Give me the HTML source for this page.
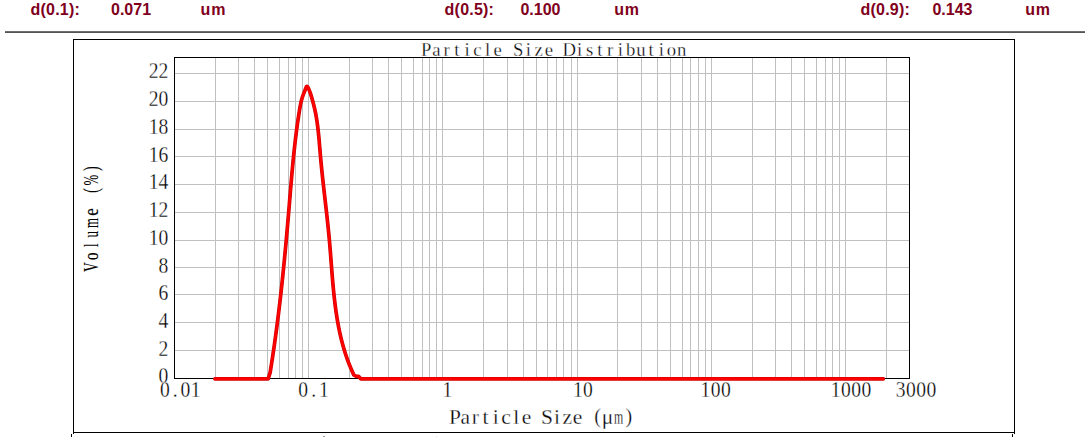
<!DOCTYPE html>
<html><head><meta charset="utf-8"><title>Particle Size Distribution</title>
<style>html,body{margin:0;padding:0;background:#fff;width:1087px;height:438px;overflow:hidden}svg{display:block}</style>
</head><body>
<svg width="1087" height="438" viewBox="0 0 1087 438"><path d="M215.5 58V378 M238.5 58V378 M254.5 58V378 M267.5 58V378 M279.5 58V378 M288.5 58V378 M295.5 58V378 M302.5 58V378 M308.5 58V378 M349.5 58V378 M372.5 58V378 M388.5 58V378 M401.5 58V378 M413.5 58V378 M422.5 58V378 M429.5 58V378 M436.5 58V378 M442.5 58V378 M483.5 58V378 M507.5 58V378 M523.5 58V378 M536.5 58V378 M547.5 58V378 M556.5 58V378 M563.5 58V378 M571.5 58V378 M577.5 58V378 M617.5 58V378 M641.5 58V378 M657.5 58V378 M670.5 58V378 M682.5 58V378 M690.5 58V378 M698.5 58V378 M705.5 58V378 M711.5 58V378 M752.5 58V378 M775.5 58V378 M791.5 58V378 M804.5 58V378 M816.5 58V378 M825.5 58V378 M832.5 58V378 M839.5 58V378 M845.5 58V378 M886.5 58V378 M175 350.5H909 M175 322.5H909 M175 294.5H909 M175 267.5H909 M175 240.5H909 M175 212.5H909 M175 184.5H909 M175 156.5H909 M175 129.5H909 M175 101.5H909 M175 73.5H909" stroke="#c0c0c0" stroke-width="1" fill="none" shape-rendering="crispEdges"/>
<path d="M174.5 57.5H909.5V378.5H174.5Z" stroke="#000" stroke-width="1" fill="none" shape-rendering="crispEdges"/>
<path d="M214.90 378.80 L268.20 378.80 L270.13 372.61 L270.37 371.16 L270.60 369.72 L270.83 368.27 L271.06 366.82 L271.29 365.38 L271.51 363.93 L271.74 362.49 L271.96 361.04 L272.19 359.59 L272.41 358.15 L272.62 356.70 L272.84 355.26 L273.06 353.81 L273.27 352.36 L273.49 350.91 L273.70 349.47 L273.91 348.02 L274.12 346.57 L274.32 345.13 L274.53 343.68 L274.73 342.23 L274.94 340.78 L275.14 339.34 L275.34 337.89 L275.54 336.44 L275.74 334.99 L275.93 333.54 L276.13 332.10 L276.32 330.65 L276.51 329.20 L276.70 327.75 L276.89 326.30 L277.08 324.85 L277.27 323.40 L277.46 321.95 L277.64 320.51 L277.82 319.06 L278.01 317.61 L278.19 316.16 L278.37 314.71 L278.55 313.26 L278.72 311.81 L278.90 310.36 L279.08 308.91 L279.25 307.46 L279.42 306.01 L279.60 304.56 L279.77 303.10 L279.94 301.65 L280.10 300.20 L280.27 298.75 L280.44 297.30 L280.60 295.85 L280.77 294.40 L280.93 292.95 L281.09 291.49 L281.25 290.04 L281.41 288.59 L281.57 287.14 L281.73 285.68 L281.89 284.23 L282.05 282.78 L282.20 281.33 L282.35 279.87 L282.51 278.42 L282.66 276.97 L282.81 275.51 L282.96 274.06 L283.11 272.61 L283.26 271.15 L283.41 269.70 L283.56 268.24 L283.70 266.79 L283.85 265.34 L283.99 263.88 L284.14 262.43 L284.28 260.97 L284.42 259.52 L284.56 258.06 L284.71 256.61 L284.85 255.15 L284.98 253.69 L285.12 252.24 L285.26 250.78 L285.40 249.33 L285.53 247.87 L285.67 246.41 L285.81 244.96 L285.94 243.50 L286.07 242.04 L286.21 240.58 L286.34 239.13 L286.47 237.67 L286.60 236.21 L286.73 234.75 L286.86 233.30 L286.99 231.84 L287.12 230.38 L287.25 228.92 L287.38 227.46 L287.50 226.00 L287.63 224.54 L287.75 223.08 L287.88 221.62 L288.00 220.16 L288.13 218.70 L288.25 217.24 L288.38 215.78 L288.50 214.32 L288.62 212.86 L288.74 211.40 L288.87 209.94 L288.99 208.48 L289.11 207.02 L289.23 205.56 L289.35 204.10 L289.47 202.63 L289.59 201.17 L289.71 199.71 L289.83 198.25 L289.95 196.79 L290.07 195.33 L290.20 193.86 L290.32 192.40 L290.44 190.94 L290.56 189.48 L290.68 188.02 L290.81 186.56 L290.93 185.10 L291.05 183.64 L291.18 182.18 L291.31 180.72 L291.43 179.25 L291.56 177.79 L291.69 176.34 L291.82 174.88 L291.95 173.42 L292.08 171.96 L292.21 170.50 L292.35 169.04 L292.48 167.58 L292.62 166.13 L292.75 164.67 L292.89 163.21 L293.03 161.76 L293.18 160.30 L293.32 158.85 L293.47 157.39 L293.61 155.94 L293.76 154.48 L293.91 153.03 L294.07 151.58 L294.22 150.13 L294.38 148.68 L294.54 147.23 L294.70 145.78 L294.86 144.33 L295.02 142.88 L295.19 141.43 L295.36 139.98 L295.53 138.54 L295.71 137.09 L295.89 135.65 L296.07 134.20 L296.25 132.76 L296.43 131.32 L296.62 129.88 L296.81 128.44 L297.01 127.00 L297.20 125.56 L297.40 124.12 L297.60 122.69 L297.81 121.25 L298.02 119.82 L298.23 118.38 L298.45 116.95 L298.66 115.52 L298.89 114.09 L299.11 112.66 L299.34 111.23 L299.57 109.80 L299.81 108.38 L300.06 106.95 L300.32 105.52 L300.61 104.09 L300.91 102.65 L301.25 101.21 L301.63 99.75 L302.04 98.29 L302.50 96.82 L303.01 95.33 L303.57 93.83 L304.19 92.31 L304.82 90.79 L305.41 89.25 L305.95 87.77 L306.46 86.65 L307.02 86.29 L307.66 86.87 L308.33 88.09 L308.99 89.62 L309.60 91.16 L310.16 92.69 L310.67 94.20 L311.15 95.69 L311.60 97.17 L312.02 98.62 L312.43 100.07 L312.82 101.50 L313.20 102.91 L313.57 104.32 L313.92 105.72 L314.26 107.12 L314.59 108.51 L314.90 109.91 L315.20 111.32 L315.49 112.72 L315.77 114.14 L316.03 115.55 L316.28 116.98 L316.52 118.40 L316.75 119.83 L316.97 121.27 L317.18 122.71 L317.38 124.15 L317.57 125.60 L317.75 127.04 L317.93 128.50 L318.10 129.95 L318.26 131.41 L318.41 132.86 L318.56 134.33 L318.71 135.79 L318.85 137.25 L318.98 138.72 L319.12 140.18 L319.25 141.65 L319.37 143.12 L319.50 144.59 L319.62 146.06 L319.74 147.53 L319.87 149.00 L319.99 150.47 L320.11 151.94 L320.23 153.41 L320.36 154.88 L320.49 156.34 L320.61 157.81 L320.75 159.27 L320.88 160.74 L321.02 162.20 L321.16 163.66 L321.30 165.12 L321.44 166.58 L321.59 168.03 L321.73 169.49 L321.88 170.95 L322.03 172.40 L322.18 173.86 L322.34 175.31 L322.49 176.76 L322.65 178.21 L322.81 179.66 L322.96 181.12 L323.12 182.57 L323.29 184.01 L323.45 185.46 L323.61 186.91 L323.77 188.36 L323.94 189.81 L324.10 191.25 L324.27 192.70 L324.43 194.15 L324.60 195.59 L324.76 197.04 L324.93 198.49 L325.10 199.93 L325.26 201.38 L325.43 202.82 L325.59 204.27 L325.76 205.71 L325.92 207.16 L326.09 208.61 L326.25 210.05 L326.42 211.50 L326.58 212.94 L326.74 214.39 L326.90 215.84 L327.06 217.29 L327.22 218.73 L327.38 220.18 L327.53 221.63 L327.69 223.08 L327.84 224.53 L327.99 225.98 L328.14 227.43 L328.29 228.88 L328.44 230.33 L328.58 231.79 L328.73 233.24 L328.87 234.70 L329.01 236.15 L329.14 237.61 L329.28 239.07 L329.41 240.52 L329.54 241.98 L329.66 243.44 L329.79 244.91 L329.91 246.37 L330.03 247.83 L330.15 249.29 L330.27 250.76 L330.39 252.22 L330.50 253.69 L330.62 255.16 L330.73 256.62 L330.84 258.09 L330.96 259.56 L331.07 261.02 L331.18 262.49 L331.30 263.96 L331.41 265.43 L331.52 266.90 L331.64 268.37 L331.75 269.84 L331.87 271.30 L331.98 272.77 L332.10 274.24 L332.22 275.71 L332.34 277.18 L332.46 278.64 L332.59 280.11 L332.71 281.58 L332.84 283.04 L332.97 284.51 L333.11 285.98 L333.24 287.44 L333.38 288.90 L333.52 290.37 L333.67 291.83 L333.82 293.29 L333.97 294.75 L334.12 296.21 L334.28 297.67 L334.45 299.13 L334.62 300.59 L334.79 302.04 L334.97 303.50 L335.15 304.95 L335.33 306.40 L335.52 307.86 L335.72 309.30 L335.92 310.75 L336.13 312.20 L336.34 313.64 L336.56 315.09 L336.79 316.53 L337.02 317.97 L337.26 319.41 L337.50 320.85 L337.75 322.28 L338.01 323.71 L338.27 325.14 L338.54 326.57 L338.82 328.00 L339.11 329.42 L339.40 330.85 L339.70 332.27 L340.01 333.69 L340.33 335.10 L340.66 336.52 L340.99 337.93 L341.34 339.34 L341.69 340.74 L342.05 342.14 L342.42 343.55 L342.80 344.94 L343.19 346.34 L343.59 347.73 L344.00 349.12 L344.42 350.51 L344.84 351.89 L345.28 353.28 L345.73 354.65 L346.19 356.03 L346.66 357.40 L347.15 358.77 L347.64 360.13 L348.14 361.50 L348.66 362.86 L349.19 364.21 L349.73 365.56 L350.28 366.91 L350.84 368.26 L351.42 369.60 L352.00 370.94 L352.60 372.27 L353.22 373.60 L353.84 374.93 L356.00 376.30 L358.50 376.30 L360.70 378.80 L883.30 378.80" stroke="#d00000" stroke-width="3.7" fill="none" stroke-linejoin="round" stroke-linecap="round"/>
<path d="M214.90 378.80 L268.20 378.80 L270.13 372.61 L270.37 371.16 L270.60 369.72 L270.83 368.27 L271.06 366.82 L271.29 365.38 L271.51 363.93 L271.74 362.49 L271.96 361.04 L272.19 359.59 L272.41 358.15 L272.62 356.70 L272.84 355.26 L273.06 353.81 L273.27 352.36 L273.49 350.91 L273.70 349.47 L273.91 348.02 L274.12 346.57 L274.32 345.13 L274.53 343.68 L274.73 342.23 L274.94 340.78 L275.14 339.34 L275.34 337.89 L275.54 336.44 L275.74 334.99 L275.93 333.54 L276.13 332.10 L276.32 330.65 L276.51 329.20 L276.70 327.75 L276.89 326.30 L277.08 324.85 L277.27 323.40 L277.46 321.95 L277.64 320.51 L277.82 319.06 L278.01 317.61 L278.19 316.16 L278.37 314.71 L278.55 313.26 L278.72 311.81 L278.90 310.36 L279.08 308.91 L279.25 307.46 L279.42 306.01 L279.60 304.56 L279.77 303.10 L279.94 301.65 L280.10 300.20 L280.27 298.75 L280.44 297.30 L280.60 295.85 L280.77 294.40 L280.93 292.95 L281.09 291.49 L281.25 290.04 L281.41 288.59 L281.57 287.14 L281.73 285.68 L281.89 284.23 L282.05 282.78 L282.20 281.33 L282.35 279.87 L282.51 278.42 L282.66 276.97 L282.81 275.51 L282.96 274.06 L283.11 272.61 L283.26 271.15 L283.41 269.70 L283.56 268.24 L283.70 266.79 L283.85 265.34 L283.99 263.88 L284.14 262.43 L284.28 260.97 L284.42 259.52 L284.56 258.06 L284.71 256.61 L284.85 255.15 L284.98 253.69 L285.12 252.24 L285.26 250.78 L285.40 249.33 L285.53 247.87 L285.67 246.41 L285.81 244.96 L285.94 243.50 L286.07 242.04 L286.21 240.58 L286.34 239.13 L286.47 237.67 L286.60 236.21 L286.73 234.75 L286.86 233.30 L286.99 231.84 L287.12 230.38 L287.25 228.92 L287.38 227.46 L287.50 226.00 L287.63 224.54 L287.75 223.08 L287.88 221.62 L288.00 220.16 L288.13 218.70 L288.25 217.24 L288.38 215.78 L288.50 214.32 L288.62 212.86 L288.74 211.40 L288.87 209.94 L288.99 208.48 L289.11 207.02 L289.23 205.56 L289.35 204.10 L289.47 202.63 L289.59 201.17 L289.71 199.71 L289.83 198.25 L289.95 196.79 L290.07 195.33 L290.20 193.86 L290.32 192.40 L290.44 190.94 L290.56 189.48 L290.68 188.02 L290.81 186.56 L290.93 185.10 L291.05 183.64 L291.18 182.18 L291.31 180.72 L291.43 179.25 L291.56 177.79 L291.69 176.34 L291.82 174.88 L291.95 173.42 L292.08 171.96 L292.21 170.50 L292.35 169.04 L292.48 167.58 L292.62 166.13 L292.75 164.67 L292.89 163.21 L293.03 161.76 L293.18 160.30 L293.32 158.85 L293.47 157.39 L293.61 155.94 L293.76 154.48 L293.91 153.03 L294.07 151.58 L294.22 150.13 L294.38 148.68 L294.54 147.23 L294.70 145.78 L294.86 144.33 L295.02 142.88 L295.19 141.43 L295.36 139.98 L295.53 138.54 L295.71 137.09 L295.89 135.65 L296.07 134.20 L296.25 132.76 L296.43 131.32 L296.62 129.88 L296.81 128.44 L297.01 127.00 L297.20 125.56 L297.40 124.12 L297.60 122.69 L297.81 121.25 L298.02 119.82 L298.23 118.38 L298.45 116.95 L298.66 115.52 L298.89 114.09 L299.11 112.66 L299.34 111.23 L299.57 109.80 L299.81 108.38 L300.06 106.95 L300.32 105.52 L300.61 104.09 L300.91 102.65 L301.25 101.21 L301.63 99.75 L302.04 98.29 L302.50 96.82 L303.01 95.33 L303.57 93.83 L304.19 92.31 L304.82 90.79 L305.41 89.25 L305.95 87.77 L306.46 86.65 L307.02 86.29 L307.66 86.87 L308.33 88.09 L308.99 89.62 L309.60 91.16 L310.16 92.69 L310.67 94.20 L311.15 95.69 L311.60 97.17 L312.02 98.62 L312.43 100.07 L312.82 101.50 L313.20 102.91 L313.57 104.32 L313.92 105.72 L314.26 107.12 L314.59 108.51 L314.90 109.91 L315.20 111.32 L315.49 112.72 L315.77 114.14 L316.03 115.55 L316.28 116.98 L316.52 118.40 L316.75 119.83 L316.97 121.27 L317.18 122.71 L317.38 124.15 L317.57 125.60 L317.75 127.04 L317.93 128.50 L318.10 129.95 L318.26 131.41 L318.41 132.86 L318.56 134.33 L318.71 135.79 L318.85 137.25 L318.98 138.72 L319.12 140.18 L319.25 141.65 L319.37 143.12 L319.50 144.59 L319.62 146.06 L319.74 147.53 L319.87 149.00 L319.99 150.47 L320.11 151.94 L320.23 153.41 L320.36 154.88 L320.49 156.34 L320.61 157.81 L320.75 159.27 L320.88 160.74 L321.02 162.20 L321.16 163.66 L321.30 165.12 L321.44 166.58 L321.59 168.03 L321.73 169.49 L321.88 170.95 L322.03 172.40 L322.18 173.86 L322.34 175.31 L322.49 176.76 L322.65 178.21 L322.81 179.66 L322.96 181.12 L323.12 182.57 L323.29 184.01 L323.45 185.46 L323.61 186.91 L323.77 188.36 L323.94 189.81 L324.10 191.25 L324.27 192.70 L324.43 194.15 L324.60 195.59 L324.76 197.04 L324.93 198.49 L325.10 199.93 L325.26 201.38 L325.43 202.82 L325.59 204.27 L325.76 205.71 L325.92 207.16 L326.09 208.61 L326.25 210.05 L326.42 211.50 L326.58 212.94 L326.74 214.39 L326.90 215.84 L327.06 217.29 L327.22 218.73 L327.38 220.18 L327.53 221.63 L327.69 223.08 L327.84 224.53 L327.99 225.98 L328.14 227.43 L328.29 228.88 L328.44 230.33 L328.58 231.79 L328.73 233.24 L328.87 234.70 L329.01 236.15 L329.14 237.61 L329.28 239.07 L329.41 240.52 L329.54 241.98 L329.66 243.44 L329.79 244.91 L329.91 246.37 L330.03 247.83 L330.15 249.29 L330.27 250.76 L330.39 252.22 L330.50 253.69 L330.62 255.16 L330.73 256.62 L330.84 258.09 L330.96 259.56 L331.07 261.02 L331.18 262.49 L331.30 263.96 L331.41 265.43 L331.52 266.90 L331.64 268.37 L331.75 269.84 L331.87 271.30 L331.98 272.77 L332.10 274.24 L332.22 275.71 L332.34 277.18 L332.46 278.64 L332.59 280.11 L332.71 281.58 L332.84 283.04 L332.97 284.51 L333.11 285.98 L333.24 287.44 L333.38 288.90 L333.52 290.37 L333.67 291.83 L333.82 293.29 L333.97 294.75 L334.12 296.21 L334.28 297.67 L334.45 299.13 L334.62 300.59 L334.79 302.04 L334.97 303.50 L335.15 304.95 L335.33 306.40 L335.52 307.86 L335.72 309.30 L335.92 310.75 L336.13 312.20 L336.34 313.64 L336.56 315.09 L336.79 316.53 L337.02 317.97 L337.26 319.41 L337.50 320.85 L337.75 322.28 L338.01 323.71 L338.27 325.14 L338.54 326.57 L338.82 328.00 L339.11 329.42 L339.40 330.85 L339.70 332.27 L340.01 333.69 L340.33 335.10 L340.66 336.52 L340.99 337.93 L341.34 339.34 L341.69 340.74 L342.05 342.14 L342.42 343.55 L342.80 344.94 L343.19 346.34 L343.59 347.73 L344.00 349.12 L344.42 350.51 L344.84 351.89 L345.28 353.28 L345.73 354.65 L346.19 356.03 L346.66 357.40 L347.15 358.77 L347.64 360.13 L348.14 361.50 L348.66 362.86 L349.19 364.21 L349.73 365.56 L350.28 366.91 L350.84 368.26 L351.42 369.60 L352.00 370.94 L352.60 372.27 L353.22 373.60 L353.84 374.93 L356.00 376.30 L358.50 376.30 L360.70 378.80 L883.30 378.80" stroke="#f00" stroke-width="2.4" fill="none" stroke-linejoin="round" stroke-linecap="round"/>
<g font-family="Liberation Serif, serif" font-size="22.5" fill="#000" stroke="#fff" stroke-width="0.3" text-anchor="end"><text transform="translate(168.2 383.40) scale(0.87 1)" x="0" y="0">0</text><text transform="translate(168.2 355.68) scale(0.87 1)" x="0" y="0">2</text><text transform="translate(168.2 327.96) scale(0.87 1)" x="0" y="0">4</text><text transform="translate(168.2 300.24) scale(0.87 1)" x="0" y="0">6</text><text transform="translate(168.2 272.52) scale(0.87 1)" x="0" y="0">8</text><text transform="translate(168.2 244.80) scale(0.87 1)" x="0" y="0">10</text><text transform="translate(168.2 217.08) scale(0.87 1)" x="0" y="0">12</text><text transform="translate(168.2 189.36) scale(0.87 1)" x="0" y="0">14</text><text transform="translate(168.2 161.64) scale(0.87 1)" x="0" y="0">16</text><text transform="translate(168.2 133.92) scale(0.87 1)" x="0" y="0">18</text><text transform="translate(168.2 106.20) scale(0.87 1)" x="0" y="0">20</text><text transform="translate(168.2 78.48) scale(0.87 1)" x="0" y="0">22</text></g>
<g font-family="Liberation Serif, serif" font-size="22.5" fill="#000" stroke="#fff" stroke-width="0.3" text-anchor="middle"><text transform="translate(164.8 397.2) scale(0.87 1)" x="0" y="0">0</text><text transform="translate(175.1 397.2) scale(0.87 1)" x="0" y="0">.</text><text transform="translate(185.3 397.2) scale(0.87 1)" x="0" y="0">0</text><text transform="translate(195.7 397.2) scale(0.87 1)" x="0" y="0">1</text><text transform="translate(303.2 397.2) scale(0.87 1)" x="0" y="0">0</text><text transform="translate(313.6 397.2) scale(0.87 1)" x="0" y="0">.</text><text transform="translate(323.9 397.2) scale(0.87 1)" x="0" y="0">1</text><text transform="translate(447.5 397.2) scale(0.87 1)" x="0" y="0">1</text><text transform="translate(577.8 397.2) scale(0.87 1)" x="0" y="0">1</text><text transform="translate(588.0 397.2) scale(0.87 1)" x="0" y="0">0</text><text transform="translate(705.4 397.2) scale(0.87 1)" x="0" y="0">1</text><text transform="translate(715.7 397.2) scale(0.87 1)" x="0" y="0">0</text><text transform="translate(726.0 397.2) scale(0.87 1)" x="0" y="0">0</text><text transform="translate(835.6 397.2) scale(0.87 1)" x="0" y="0">1</text><text transform="translate(845.9 397.2) scale(0.87 1)" x="0" y="0">0</text><text transform="translate(856.2 397.2) scale(0.87 1)" x="0" y="0">0</text><text transform="translate(866.5 397.2) scale(0.87 1)" x="0" y="0">0</text><text transform="translate(900.6 397.2) scale(0.87 1)" x="0" y="0">3</text><text transform="translate(910.9 397.2) scale(0.87 1)" x="0" y="0">0</text><text transform="translate(921.2 397.2) scale(0.87 1)" x="0" y="0">0</text><text transform="translate(931.5 397.2) scale(0.87 1)" x="0" y="0">0</text></g>
<g font-family="Liberation Serif, serif" font-size="18.7" fill="#000" stroke="#fff" stroke-width="0.3" text-anchor="middle"><text x="426.2" y="56.2">P</text><text x="436.4" y="56.2">a</text><text x="446.6" y="56.2">r</text><text x="456.9" y="56.2">t</text><text x="467.1" y="56.2">i</text><text x="477.3" y="56.2">c</text><text x="487.5" y="56.2">l</text><text x="497.7" y="56.2">e</text><text x="518.2" y="56.2">S</text><text x="528.4" y="56.2">i</text><text x="538.6" y="56.2">z</text><text x="548.8" y="56.2">e</text><text x="569.3" y="56.2">D</text><text x="579.5" y="56.2">i</text><text x="589.7" y="56.2">s</text><text x="599.9" y="56.2">t</text><text x="610.2" y="56.2">r</text><text x="620.4" y="56.2">i</text><text x="630.6" y="56.2">b</text><text x="640.8" y="56.2">u</text><text x="651.0" y="56.2">t</text><text x="661.3" y="56.2">i</text><text x="671.5" y="56.2">o</text><text x="681.7" y="56.2">n</text></g>
<g font-family="Liberation Serif, serif" font-size="21.5" fill="#000" stroke="#fff" stroke-width="0.3" text-anchor="middle"><text x="455.0" y="424">P</text><text x="465.2" y="424">a</text><text x="475.4" y="424">r</text><text x="485.6" y="424">t</text><text x="495.8" y="424">i</text><text x="506.1" y="424">c</text><text x="516.3" y="424">l</text><text x="526.5" y="424">e</text><text x="546.9" y="424">S</text><text x="557.1" y="424">i</text><text x="567.3" y="424">z</text><text x="577.5" y="424">e</text><text x="597.6" y="423.4" font-size="20">(</text><text x="607.4" y="424">μ</text><text transform="translate(618.6 424) scale(0.55 1)" x="0" y="0">m</text><text x="628.9" y="423.4" font-size="20">)</text></g>
<g font-family="Liberation Serif, serif" font-size="21.5" fill="#000" stroke="#000" stroke-width="0.15" text-anchor="middle"><text transform="translate(98.3 267.2) rotate(-90) scale(0.6 1)" x="0" y="0">V</text><text transform="translate(98.3 256.2) rotate(-90) scale(0.7 1)" x="0" y="0">o</text><text transform="translate(98.3 245.2) rotate(-90) scale(0.6 1)" x="0" y="0">l</text><text transform="translate(98.3 234.2) rotate(-90) scale(0.6 1)" x="0" y="0">u</text><text transform="translate(98.3 222.9) rotate(-90) scale(0.6 1)" x="0" y="0">m</text><text transform="translate(98.3 212.1) rotate(-90) scale(0.78 1)" x="0" y="0">e</text><text transform="translate(98.3 190.5) rotate(-90) scale(0.6 1)" x="0" y="0">(</text><text transform="translate(98.3 180.2) rotate(-90) scale(0.6 1)" x="0" y="0">%</text><text transform="translate(98.3 168.6) rotate(-90) scale(0.6 1)" x="0" y="0">)</text></g>
<path d="M73.5 39V433.5 M1014.5 39V433.5 M73 39.5H1015 M73 432.5H1015" stroke="#000" stroke-width="1" fill="none" shape-rendering="crispEdges"/>
<rect x="71" y="434" width="1" height="3" fill="#000"/><rect x="1012" y="434" width="1" height="3" fill="#000"/><rect x="323" y="436" width="2" height="1" fill="#999"/><rect x="436" y="436" width="1" height="1" fill="#ddd"/>
<rect x="5" y="31" width="1080" height="1" fill="#6e6e6e"/><rect x="5" y="32" width="1080" height="1" fill="#545454"/>
<g font-family="Liberation Sans, sans-serif" font-weight="bold" font-size="16" fill="#80001c"><text x="30.5" y="15" letter-spacing="0.22">d(0.1):</text><text x="111" y="15">0.071</text><text x="200.6" y="15" letter-spacing="0.8">um</text><text x="444.6" y="15" letter-spacing="0.22">d(0.5):</text><text x="520.4" y="15">0.100</text><text x="614.2" y="15" letter-spacing="0.8">um</text><text x="860.5" y="15" letter-spacing="0.22">d(0.9):</text><text x="932.4" y="15">0.143</text><text x="1025.3" y="15" letter-spacing="0.8">um</text></g></svg>
</body></html>
